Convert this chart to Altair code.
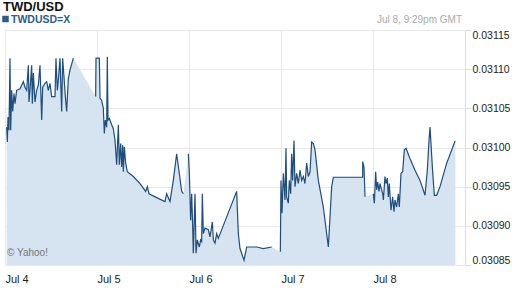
import altair as alt
import pandas as pd

# hours since Jul 4 00:00 GMT
HOURS = [0.43, 0.61, 0.78, 1.04, 1.30, 1.48, 1.74, 2.00, 2.35, 2.61, 3.04, 3.91, 4.78, 5.22, 5.65, 6.09, 6.26, 6.52, 6.96, 7.13,
         7.39, 7.83, 8.26, 8.70, 9.13, 9.57, 9.83, 10.43, 10.87, 11.30, 11.74, 12.17, 13.04, 13.30, 13.65, 13.91, 14.35, 14.78, 15.04, 15.39,
         15.74, 16.09, 16.52, 16.96, 17.83,
         23.65, 23.74, 24.61, 24.78, 25.22, 25.65, 25.91, 26.17, 26.52, 26.69, 26.87, 27.21, 27.83, 28.26, 28.70, 29.13, 29.57, 29.83, 30.17,
         30.43, 30.70, 30.87, 31.13, 31.48, 31.91, 33.48, 35.22, 36.70, 37.13, 37.57, 39.57, 41.74, 42.17, 43.04, 43.91, 44.78, 46.09, 46.52,
         47.83, 48.09, 48.43, 48.70, 48.96, 49.13, 49.57, 49.83, 50.17, 50.70, 51.04, 51.30, 51.48, 51.74, 52.17, 53.04, 53.48, 54.09, 54.35,
         54.78, 55.22, 55.65, 60.43, 60.87, 61.30, 62.35, 63.04, 65.65, 67.39, 69.57,
         71.83, 72.00, 72.26, 72.61, 73.04, 73.30, 73.48, 73.91, 74.17, 74.52, 74.78, 75.04, 75.39, 75.65, 76.09, 76.52, 76.96, 77.39, 77.83,
         78.26, 78.70, 79.13, 79.57, 80.00, 80.43, 80.87, 81.74, 83.04, 84.35, 85.22, 85.65, 93.30, 93.31, 93.65, 93.91,
         96.09, 96.35, 96.70, 96.96, 97.22, 97.57, 97.83, 98.26, 98.52, 98.70, 99.13, 99.39, 99.74, 100.00, 100.26, 100.43, 100.70, 101.13,
         101.48, 101.74, 102.17, 102.61, 102.87, 103.30, 103.74, 104.17, 104.61, 105.65, 106.96, 108.26, 109.57, 110.17, 110.61, 110.87,
         111.13, 111.48, 112.00, 112.61, 113.48, 115.22, 117.39, 117.50]

RATES = [0.031026, 0.031007, 0.031039, 0.031022, 0.031114, 0.031022, 0.031073, 0.031046, 0.031069, 0.031056, 0.031073, 0.031075,
         0.031084, 0.031077, 0.031073, 0.031105, 0.031058, 0.031073, 0.031105, 0.031056, 0.031095, 0.031058, 0.031073, 0.031080,
         0.031105, 0.031035, 0.031077, 0.031082, 0.031084, 0.031073, 0.031082, 0.031065, 0.031065, 0.031114, 0.031073, 0.031086,
         0.031114, 0.031046, 0.031114, 0.031090, 0.031065, 0.031046, 0.031088, 0.031099, 0.031114,
         0.031065, 0.031114, 0.031114, 0.031063, 0.031060, 0.031050, 0.031018, 0.031035, 0.031026, 0.031116, 0.031035, 0.031037,
         0.031029, 0.031024, 0.031009, 0.030978, 0.031029, 0.030978, 0.031005, 0.030975, 0.031003, 0.030969, 0.031001, 0.030980,
         0.030969, 0.030963, 0.030954, 0.030944, 0.030950, 0.030941, 0.030936, 0.030931, 0.030941, 0.030931, 0.030958, 0.030992,
         0.030944, 0.030941,
         0.030992, 0.030967, 0.030907, 0.030941, 0.030899, 0.030865, 0.030941, 0.030865, 0.030882, 0.030873, 0.030882, 0.030880,
         0.030941, 0.030890, 0.030897, 0.030895, 0.030886, 0.030905, 0.030882, 0.030878, 0.030890, 0.030884, 0.030944, 0.030890,
         0.030871, 0.030856, 0.030873, 0.030873, 0.030871, 0.030873,
         0.030867, 0.030958, 0.030916, 0.030967, 0.030933, 0.030999, 0.030937, 0.030929, 0.030958, 0.030941, 0.030992, 0.030958,
         0.031009, 0.030950, 0.030967, 0.030954, 0.030971, 0.030958, 0.030963, 0.030954, 0.030980, 0.030963, 0.030969, 0.031007,
         0.031005, 0.030997, 0.030958, 0.030924, 0.030873, 0.030950, 0.030962, 0.030962, 0.030982, 0.030975, 0.030937,
         0.030941, 0.030929, 0.030969, 0.030946, 0.030956, 0.030944, 0.030954, 0.030946, 0.030941, 0.030933, 0.030963, 0.030954,
         0.030961, 0.030937, 0.030954, 0.030939, 0.030920, 0.030937, 0.030918, 0.030933, 0.030924, 0.030941, 0.030924, 0.030967,
         0.030969, 0.030997, 0.030999, 0.030986, 0.030971, 0.030958, 0.030939, 0.030971, 0.031009, 0.031026, 0.031005, 0.030975,
         0.030939, 0.030939, 0.030950, 0.030980, 0.031008, 0.031008]

SEGMENTS = [1] * 45 + [2] * 38 + [3] * 30 + [4] * 35 + [5] * 42

TICK_HOURS = [0, 24, 48, 72, 96]
TICK_LABELS = ["Jul 4", "Jul 5", "Jul 6", "Jul 7", "Jul 8"]
Y_TICKS = [0.03085, 0.03090, 0.03095, 0.03100, 0.03105, 0.03110, 0.03115]

df = pd.DataFrame({"h": HOURS, "rate": RATES, "seg": SEGMENTS})

label_expr = "[" + ",".join("'%s'" % s for s in TICK_LABELS) + "][round(datum.value/24)]"

x_enc = alt.X("h:Q", scale=alt.Scale(domain=[0, 120], nice=False, zero=False),
              axis=alt.Axis(values=TICK_HOURS, labelExpr=label_expr, orient="bottom", grid=True,
                            gridColor="#e8e8e8", ticks=False, domain=False, labelAlign="left",
                            labelPadding=8, labelFontSize=11, labelColor="#222", labelFont="Liberation Sans",
                            labelFlush=False, labelOverlap=False, title=None))
y_enc = alt.Y("rate:Q", scale=alt.Scale(domain=[0.03085, 0.03115], nice=False, zero=False),
              axis=alt.Axis(values=Y_TICKS, format=".5f", orient="right", grid=True, gridColor="#e8e8e8",
                            tickColor="#dddddd", tickSize=6, domain=False, labelPadding=1, labelFontSize=10.5,
                            labelColor="#222", labelFont="Liberation Sans", labelFlush=True,
                            labelOverlap=False, title=None))

area = alt.Chart(df).mark_area(color="#d5e4f0", opacity=1, clip=True).encode(x=x_enc, y=y_enc)
line = alt.Chart(df).mark_line(color="#1d4e7e", strokeWidth=1.2, clip=True).encode(
    x=x_enc, y=y_enc, detail="seg:N")

title = alt.Chart(pd.DataFrame({"t": ["TWD/USD"]})).mark_text(
    align="left", baseline="alphabetic", font="Liberation Sans",
    fontSize=13, fontWeight="bold", color="#111").encode(
    text="t:N", x=alt.value(-2), y=alt.value(-19))
legend_sq = alt.Chart(pd.DataFrame({"t": ["TWDUSD=X"]})).mark_square(
    color="#2a5d91", size=42, opacity=1).encode(x=alt.value(0.5), y=alt.value(-11))
legend_tx = alt.Chart(pd.DataFrame({"t": ["TWDUSD=X"]})).mark_text(
    align="left", baseline="alphabetic", font="Liberation Sans", fontSize=10.5, fontWeight="bold",
    color="#2a5d91").encode(text="t:N", x=alt.value(6), y=alt.value(-7))
stamp = alt.Chart(pd.DataFrame({"t": ["Jul 8, 9:29pm GMT"]})).mark_text(
    align="right", baseline="alphabetic", font="Liberation Sans", fontSize=10,
    color="#aaaaaa").encode(text="t:N", x=alt.value(457), y=alt.value(-7.5))
yahoo = alt.Chart(pd.DataFrame({"t": ["© Yahoo!"]})).mark_text(
    align="left", baseline="alphabetic", font="Liberation Sans", fontSize=10,
    color="#777777").encode(text="t:N", x=alt.value(2), y=alt.value(226))

chart = alt.layer(area, line, title, legend_sq, legend_tx, stamp, yahoo).properties(
    width=460, height=235,
    autosize=alt.AutoSizeParams(type="none"),
    padding={"left": 5, "top": 30, "right": 47, "bottom": 23},
    background="white",
).configure_view(stroke="#dddddd", strokeWidth=1).configure_axis(labelOverlap=False)

chart.save("out.html", embed_options={"renderer": "svg", "actions": False})
